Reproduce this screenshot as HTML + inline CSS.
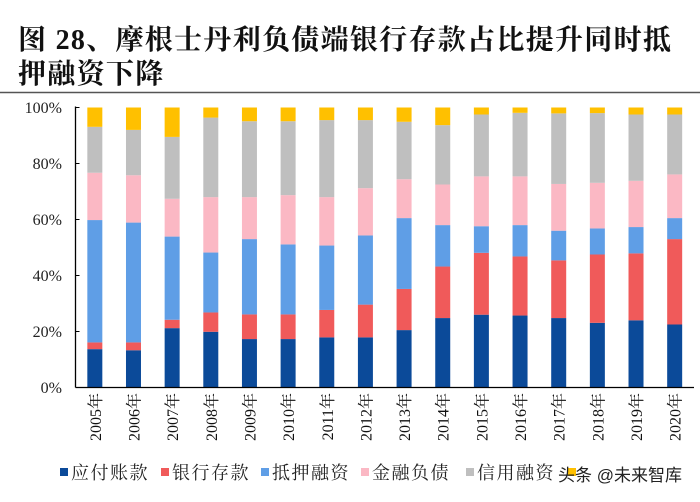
<!DOCTYPE html>
<html><head><meta charset="utf-8">
<style>
html,body{margin:0;padding:0;background:#fff;}
#wrap{position:relative;width:700px;height:502px;overflow:hidden;font-family:"Liberation Serif","Noto Serif CJK SC",serif;}
.title{position:absolute;left:18px;font-size:28px;font-weight:bold;color:#111;font-family:"Liberation Serif","Noto Serif CJK SC",serif;letter-spacing:1.3px;white-space:nowrap;line-height:34px;}
</style></head>
<body>
<div id="wrap">
<div class="title" style="top:24px">图 28、摩根士丹利负债端银行存款占比提升同时抵</div>
<div class="title" style="top:58px">押融资下降</div>
<svg id="chart" width="700" height="502" style="position:absolute;left:0;top:0"></svg>
</div>
<script>
const categories=["2005年","2006年","2007年","2008年","2009年","2010年","2011年","2012年","2013年","2014年","2015年","2016年","2017年","2018年","2019年","2020年"];
const seriesNames=["应付账款","银行存款","抵押融资","金融负债","信用融资","其他"];
const seriesColors=["#0b4a99","#f05a5a","#5f9ee6","#fbb8c4","#bfbfbf","#ffc000"];
const payables=[13.7,13.3,21.2,19.9,17.3,17.3,17.9,17.9,20.5,24.8,26.0,25.7,24.8,23.1,24.0,22.5];
const deposits=[2.4,2.8,3.0,6.9,8.8,8.8,9.8,11.7,14.7,18.4,22.1,21.1,20.6,24.4,23.9,30.5];
const secured=[43.7,42.8,29.7,21.4,26.9,25.0,23.0,24.7,25.3,14.8,9.5,11.2,10.6,9.3,9.4,7.5];
const finLiab=[16.9,16.9,13.5,19.8,15.0,17.6,17.3,16.9,13.9,14.5,17.8,17.4,16.7,16.3,16.5,15.6];
const credit=[16.4,16.2,22.1,28.4,27.1,26.4,27.5,24.3,20.5,21.2,22.1,22.7,25.2,24.9,23.7,21.4];
const other=[6.9,8.0,10.5,3.6,4.9,4.9,4.5,4.5,5.1,6.3,2.5,1.9,2.1,2.0,2.5,2.5];
const series=[payables,deposits,secured,finLiab,credit,other];
const yTicks=["0%","20%","40%","60%","80%","100%"];

const NS="http://www.w3.org/2000/svg";
const svg=document.getElementById('chart');
const X0=75.5,X1=694,Y0=387.5,Y1=107.5;
const band=(X1-X0)/categories.length, barW=15;
function xc(i){return X0+band*(i+0.5);}
function y(v){return Y0-(v/100)*(Y0-Y1);}
function mk(tag,attrs){const e=document.createElementNS(NS,tag);for(const k in attrs)e.setAttribute(k,attrs[k]);svg.appendChild(e);return e;}

const rule=mk('line',{x1:0,y1:92.5,x2:700,y2:92.5,stroke:'#555','stroke-width':1.5});



for(let i=0;i<categories.length;i++){
  let cum=0;
  const tot=series.reduce((s,a)=>s+a[i],0);
  for(let s=0;s<series.length;s++){
    const v=series[s][i]/tot*100;
    const r=mk('rect',{x:xc(i)-barW/2,y:y(cum+v),width:barW,height:y(cum)-y(cum+v),fill:seriesColors[s]});
    
    
    cum+=v;
  }
}
const ya=mk('line',{x1:X0,y1:Y1-1,x2:X0,y2:Y0,stroke:'#000','stroke-width':1.3});


const xa=mk('line',{x1:X0,y1:Y0,x2:X1,y2:Y0,stroke:'#000','stroke-width':1.3});


yTicks.forEach((t,k)=>{
  const v=k*20;
  const tk=mk('line',{x1:X0,y1:y(v),x2:X0+4,y2:y(v),stroke:'#000','stroke-width':1});
  
  
  const tx=mk('text',{x:62,y:y(v)+5.5,'text-anchor':'end','font-size':16,fill:'#222','font-family':'"Liberation Serif",serif'});
  tx.textContent=t;
  
  
});
categories.forEach((c,i)=>{
  const tx=mk('text',{x:0,y:0,'text-anchor':'end','font-size':16,fill:'#111','font-family':'"Liberation Serif","Noto Serif CJK SC",serif',transform:`translate(${xc(i)+6},393) rotate(-90)`});
  tx.textContent=c;
  
  
});
const legX=[60,161,261,361,466,568];
seriesNames.forEach((n,s)=>{
  const r=mk('rect',{x:legX[s],y:468,width:8,height:8,fill:seriesColors[s]});
  
  
  if(s<5){
    const t=mk('text',{x:legX[s]+11,y:479,'font-size':18,fill:'#222','font-family':'"Liberation Serif","Noto Serif CJK SC",serif','letter-spacing':1.5});
    t.textContent=n;
    
    
  }
});
const wm=mk('text',{x:558,y:481,'font-size':17,fill:'#222','font-family':'"Liberation Sans","Noto Sans CJK SC",sans-serif'});
wm.textContent='头条 @未来智库';


</script>
</body></html>
